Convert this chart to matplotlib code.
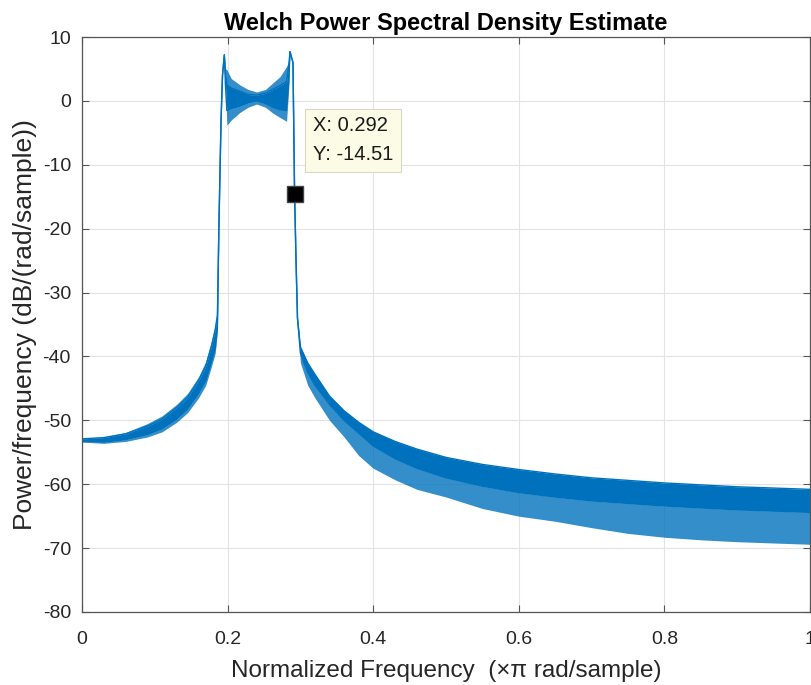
import matplotlib
matplotlib.use("Agg")
import matplotlib.pyplot as plt
import numpy as np

plt.rcParams["axes.unicode_minus"] = False

# Welch PSD trace (dB/(rad/sample)).
# upper/lower = tips of the ripple spikes, core_up/core_lo = the dense part of the band
freq = [0.0, 0.03, 0.06, 0.09, 0.11, 0.13, 0.145, 0.16, 0.17, 0.178, 0.183, 0.186,
        0.188, 0.191, 0.193, 0.1955, 0.197, 0.199, 0.205, 0.217, 0.228, 0.24,
        0.252, 0.262, 0.272, 0.281, 0.284, 0.2857, 0.2898, 0.292, 0.294, 0.296,
        0.30, 0.31, 0.32, 0.34, 0.36, 0.38, 0.40, 0.43, 0.46, 0.50, 0.55, 0.60,
        0.65, 0.70, 0.75, 0.80, 0.85, 0.90, 0.95, 1.0]
upper = [-52.8, -52.6, -51.9, -50.5, -49.3, -47.5, -45.8, -43.2, -40.8, -37.5, -35.0, -33.0,
         -20.0, -3.0, 4.0, 7.2, 5.0, 4.9, 3.5, 2.5, 1.8, 1.4,
         1.8, 2.8, 3.8, 5.4, 6.2, 7.7, 6.0, -14.51, -25.0, -34.0,
         -38.5, -41.0, -42.8, -46.2, -48.5, -50.3, -51.8, -53.3, -54.5, -55.8, -56.9, -57.7,
         -58.4, -59.0, -59.4, -59.8, -60.1, -60.4, -60.6, -60.8]
lower = [-53.4, -53.6, -53.3, -52.6, -51.8, -50.3, -48.8, -46.5, -44.5, -41.5, -39.5, -36.0,
         -20.0, -3.0, 4.0, 7.2, 2.0, -3.8, -3.0, -1.8, -1.0, -0.5,
         -1.0, -1.9, -2.6, -3.2, 2.0, 7.7, 6.0, -14.51, -25.0, -34.0,
         -41.0, -44.5, -46.5, -50.0, -52.6, -55.5, -57.5, -59.3, -60.8, -62.0, -63.8, -65.0,
         -65.8, -66.8, -67.7, -68.3, -68.7, -69.0, -69.2, -69.4]
core_up = [-52.9, -52.7, -52.1, -50.9, -49.8, -48.0, -46.4, -43.8, -41.5, -38.3, -35.8, -33.5,
           -20.0, -3.0, 4.0, 7.2, 4.5, 2.5, 2.0, 1.5, 1.0, 0.9,
           1.2, 1.8, 2.4, 3.0, 5.5, 7.7, 6.0, -14.51, -25.0, -34.0,
           -38.5, -41.0, -42.8, -46.2, -48.5, -50.3, -51.8, -53.3, -54.5, -55.8, -56.9, -57.7,
           -58.4, -59.0, -59.4, -59.8, -60.1, -60.4, -60.6, -60.8]
core_lo = [-53.3, -53.4, -53.0, -52.2, -51.3, -49.8, -48.2, -45.8, -43.8, -40.8, -38.8, -35.5,
           -20.0, -3.0, 4.0, 7.2, 2.5, -1.5, -1.2, -0.8, -0.3, 0.0,
           -0.4, -1.0, -1.4, -1.5, 3.0, 7.7, 6.0, -14.51, -25.0, -34.0,
           -39.5, -42.5, -44.5, -47.5, -50.0, -52.0, -54.0, -56.0, -57.5, -59.0, -60.3, -61.3,
           -62.0, -62.6, -63.0, -63.4, -63.7, -64.0, -64.2, -64.4]

tip_x = 0.292
tip_y = -14.51

xticks = [0, 0.2, 0.4, 0.6, 0.8, 1]
xticklabels = ["0", "0.2", "0.4", "0.6", "0.8", "1"]
yticks = [-80, -70, -60, -50, -40, -30, -20, -10, 0, 10]

blue = "#0072BD"
fam = ["Liberation Sans", "DejaVu Sans"]

fig = plt.figure(figsize=(8.11, 6.85), dpi=100)
ax = fig.add_axes([82 / 811, 73 / 685, 728 / 811, 575 / 685])

# dense core solid, spike tips a bit lighter
ax.fill_between(freq, core_lo, core_up, color=blue, linewidth=0)
ax.fill_between(freq, core_up, upper, color=blue, alpha=0.8, linewidth=0)
ax.fill_between(freq, lower, core_lo, color=blue, alpha=0.8, linewidth=0)
ax.plot(freq, core_up, color=blue, linewidth=1.0)
ax.plot(freq, core_lo, color=blue, linewidth=1.0)

# data tip
ax.plot([tip_x], [tip_y], marker="s", markersize=11, color="black",
        markeredgecolor="#444444", zorder=5)
ax.text(0.317, -2.4, "X: %.3f\nY: %.2f" % (tip_x, tip_y), fontsize=14.5,
        family=fam, va="top", ha="left", color="#1a1a1a", linespacing=1.65,
        bbox=dict(boxstyle="square,pad=0.38", facecolor="#FCFCE6",
                  edgecolor="#D8D8C8", linewidth=0.8), zorder=6)

ax.set_xlim(0, 1)
ax.set_ylim(-80, 10)
ax.set_xticks(xticks)
ax.set_xticklabels(xticklabels)
ax.set_yticks(yticks)
ax.grid(True, color="#E3E3E3", linewidth=0.8)
ax.set_axisbelow(True)
ax.tick_params(direction="in", top=True, right=True, length=5, width=0.8,
               colors="#555555", labelcolor="#262626", labelsize=14)
ax.tick_params(axis="x", pad=14)
ax.tick_params(axis="y", pad=8)
for lab in ax.get_xticklabels() + ax.get_yticklabels():
    lab.set_family(fam)
for s in ax.spines.values():
    s.set_color("#555555")
    s.set_linewidth(0.9)

ax.set_title("Welch Power Spectral Density Estimate", fontsize=17,
             fontweight="bold", family=fam, pad=5)
ax.set_xlabel("Normalized Frequency  (\u00d7\u03c0 rad/sample)", fontsize=17.5,
              family=fam, color="#262626", labelpad=8)
ax.set_ylabel("Power/frequency (dB/(rad/sample))", fontsize=19,
              family=fam, color="#262626", labelpad=4)

fig.savefig("out.png", dpi=100)
